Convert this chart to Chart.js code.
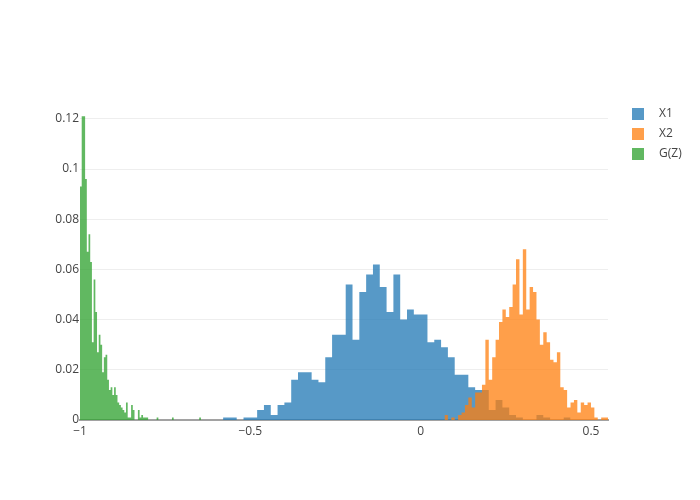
<!DOCTYPE html>
<html>
<head>
<meta charset="utf-8">
<script src="https://cdn.jsdelivr.net/npm/chart.js@4.4.1/dist/chart.umd.min.js"></script>
<style>
  html, body { margin: 0; padding: 0; background: #fff; }
  #wrap { width: 700px; height: 500px; position: relative; }
</style>
</head>
<body>
<div id="wrap"><canvas id="chart"></canvas></div>
<script>
// histogram bins, probability per bin
const x1Start = -0.58, x1Size = 0.02;
const x1Values = [
    0.001, 0.001, 0, 0.001, 0.001, 0.004, 0.006, 0.002, 0.006, 0.007,
    0.016, 0.019, 0.019, 0.016, 0.015, 0.025, 0.034, 0.034, 0.054, 0.032,
    0.051, 0.058, 0.062, 0.053, 0.043, 0.058, 0.040, 0.044, 0.042, 0.042,
    0.031, 0.032, 0.029, 0.025, 0.018, 0.018, 0.013, 0.012, 0.012, 0.004,
    0.008, 0.005, 0.002, 0.001, 0, 0, 0.002, 0.001, 0, 0, 0.001
];

const x2Start = 0.07, x2Size = 0.01;
const x2Values = [
    0.002, 0, 0.001, 0, 0.002, 0.003, 0.006, 0.009, 0.005, 0.011,
    0.011, 0.014, 0.032, 0.016, 0.025, 0.032, 0.039, 0.044, 0.041, 0.045,
    0.054, 0.064, 0.042, 0.068, 0.044, 0.053, 0.051, 0.040, 0.030, 0.035,
    0.031, 0.024, 0.023, 0.027, 0.013, 0.012, 0.005, 0.007, 0.008, 0.003,
    0.007, 0.006, 0.007, 0.005, 0.001, 0, 0.001, 0.001
];

const gzStart = -1, gzSize = 0.005;
const gzValues = [
    0.093, 0.121, 0.121, 0.096, 0.067, 0.074, 0.063, 0.031, 0.056, 0.043,
    0.027, 0.034, 0.030, 0.019, 0.025, 0.026, 0.016, 0.012, 0.013, 0.010,
    0.013, 0.010, 0.007, 0.006, 0.005, 0.004, 0.003, 0.007, 0.001, 0.001,
    0.006, 0.004, 0, 0, 0.004, 0.001, 0.002, 0.001, 0.001, 0.001,
    0, 0, 0, 0, 0, 0.001, 0, 0, 0, 0,
    0, 0, 0, 0, 0.001, 0, 0, 0, 0, 0,
    0, 0, 0, 0, 0, 0, 0, 0, 0, 0,
    0.001
];

const seriesNames = ['X1', 'X2', 'G(Z)'];
const seriesColors = ['rgba(31, 119, 180, 0.75)', 'rgba(255, 127, 14, 0.75)', 'rgba(44, 160, 44, 0.75)'];

const xTickValues = [-1, -0.5, 0, 0.5];
const xTickLabels = ['\u22121', '\u22120.5', '0', '0.5'];
const yTickValues = [0, 0.02, 0.04, 0.06, 0.08, 0.1, 0.12];
const yTickLabels = ['0', '0.02', '0.04', '0.06', '0.08', '0.1', '0.12'];

const FONT = "'Open Sans', verdana, arial, sans-serif";

// outline of a histogram: both edges of every bin, closed at zero
function binOutline(start, size, values) {
    const pts = [{ x: start, y: 0 }];
    values.forEach((v, i) => {
        pts.push({ x: start + i * size, y: v });
        pts.push({ x: start + (i + 1) * size, y: v });
    });
    pts.push({ x: start + values.length * size, y: 0 });
    return pts;
}

// plain square used as the legend swatch
function swatch(color) {
    const c = document.createElement('canvas');
    c.width = 12;
    c.height = 12;
    const g = c.getContext('2d');
    g.fillStyle = color;
    g.fillRect(0, 0, 12, 12);
    return c;
}

const bins = [
    binOutline(x1Start, x1Size, x1Values),
    binOutline(x2Start, x2Size, x2Values),
    binOutline(gzStart, gzSize, gzValues)
];

const datasets = bins.map((data, i) => ({
    label: seriesNames[i],
    data: data,
    yAxisID: 'y',
    order: 2 - i,
    fill: 'origin',
    backgroundColor: seriesColors[i],
    borderColor: 'rgba(0,0,0,0)',
    borderWidth: 0,
    tension: 0,
    pointRadius: 0,
    pointHoverRadius: 0,
    pointStyle: swatch(seriesColors[i])
}));

new Chart(document.getElementById('chart'), {
    type: 'line',
    data: { datasets },
    options: {
        responsive: true,
        maintainAspectRatio: false,
        animation: false,
        events: [],
        layout: { padding: { top: 100, right: 15, bottom: 0, left: 0 } },
        plugins: {
            tooltip: { enabled: false },
            legend: {
                position: 'right',
                align: 'start',
                maxWidth: 70,
                labels: {
                    usePointStyle: true,
                    pointStyleWidth: 30,
                    boxHeight: 12,
                    padding: 8,
                    color: '#444',
                    font: { family: FONT, size: 12 },
                    sort: (a, b) => a.datasetIndex - b.datasetIndex
                }
            }
        },
        scales: {
            x: {
                type: 'linear',
                min: -1,
                max: 0.55,
                z: 1,
                afterFit: (s) => { s.height = 80; },
                afterBuildTicks: (s) => { s.ticks = xTickValues.map(v => ({ value: v })); },
                grid: { display: false, drawTicks: false },
                border: { display: true, color: '#a2a2a2', width: 2 },
                ticks: {
                    padding: 4,
                    maxRotation: 0,
                    autoSkip: false,
                    color: '#444',
                    font: { family: FONT, size: 12 },
                    callback: (v, i) => xTickLabels[i]
                }
            },
            y: {
                type: 'linear',
                min: 0,
                max: 0.1275,
                afterFit: (s) => { s.width = 80; },
                afterBuildTicks: (s) => { s.ticks = yTickValues.map(v => ({ value: v })); },
                grid: { color: '#eee', lineWidth: 1, drawTicks: false },
                border: { display: false },
                ticks: {
                    padding: 1,
                    autoSkip: false,
                    color: '#444',
                    font: { family: FONT, size: 12 },
                    callback: (v, i) => yTickLabels[i]
                }
            },
            pad: {
                type: 'linear',
                position: 'right',
                afterFit: (s) => { s.width = 7; },
                grid: { display: false, drawTicks: false },
                border: { display: false },
                ticks: { display: false }
            }
        }
    }
});
</script>
</body>
</html>
